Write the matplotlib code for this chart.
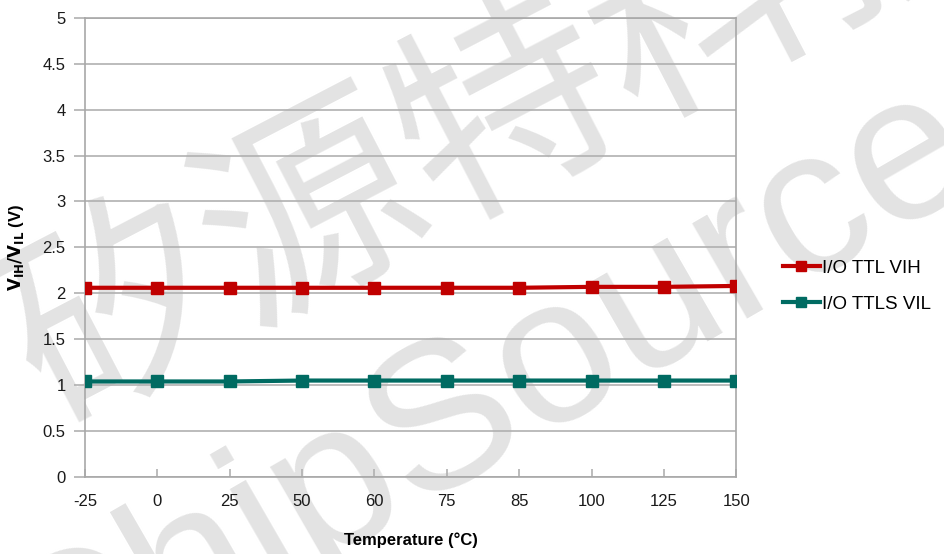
import numpy as np
import matplotlib.pyplot as plt

# данные с графика
temps = ["-25", "0", "25", "50", "60", "75", "85", "100", "125", "150"]
vih = [2.06, 2.06, 2.06, 2.06, 2.06, 2.06, 2.06, 2.07, 2.07, 2.08]
vil = [1.04, 1.04, 1.04, 1.05, 1.05, 1.05, 1.05, 1.05, 1.05, 1.05]
yticks = [0, 0.5, 1, 1.5, 2, 2.5, 3, 3.5, 4, 4.5, 5]

plt.rcParams['font.family'] = ['Liberation Sans', 'Noto Sans CJK SC', 'DejaVu Sans']

fig = plt.figure(figsize=(9.44, 5.54), dpi=100)

# водяной знак (под графиком)
fig.text(0.540, 0.792, "矽源特科技", fontsize=158, color="#e3e3e3", rotation=27.5,
         ha='center', va='center', rotation_mode='anchor',
         family=['Noto Sans CJK SC'], zorder=-5)
fig.text(0.515, 0.276, "ChipSource", fontsize=150, color="#e3e3e3", rotation=30,
         ha='center', va='center', rotation_mode='anchor',
         family=['Liberation Sans'], zorder=-5)

ax = fig.add_axes([0.090, 0.139, 0.690, 0.829])
ax.patch.set_alpha(0)
x = np.arange(len(temps))

ax.plot(x, vih, color="#c00000", lw=3, marker="s", ms=9, label="I/O TTL VIH", zorder=3)
ax.plot(x, vil, color="#006b62", lw=3, marker="s", ms=9, label="I/O TTLS VIL", zorder=3)

ax.set_xlim(0, len(temps) - 1)
ax.set_ylim(0, 5)
ax.set_yticks(yticks)
ax.set_yticklabels([f"{v:g}" for v in yticks])
ax.set_xticks(x)
ax.set_xticklabels(temps)
ax.yaxis.grid(True, color="#b0b0b0", lw=1.2)
ax.set_axisbelow(True)

for s in ax.spines.values():
    s.set_color("#a8a8a8")
    s.set_linewidth(1.2)

ax.tick_params(axis='y', direction='out', length=8, color="#b0b0b0", width=1.2,
               labelsize=12, pad=6, labelcolor="#1a1a1a")
ax.tick_params(axis='x', direction='in', length=6, color="#b0b0b0", width=1.2,
               labelsize=12, pad=12, labelcolor="#1a1a1a")

ax.set_xlabel("Temperature (°C)", fontsize=12, fontweight='bold', labelpad=17)
ax.set_ylabel(r"$\mathbf{V_{IH}/V_{IL}}$ (V)", fontsize=12, fontweight='bold', labelpad=12)

ax.legend(loc='center left', bbox_to_anchor=(1.045, 0.415), frameon=False,
          fontsize=13.5, handlelength=2.0, handletextpad=0.1, labelspacing=1.0,
          markerscale=0.8)

fig.savefig("out.png", dpi=100)
